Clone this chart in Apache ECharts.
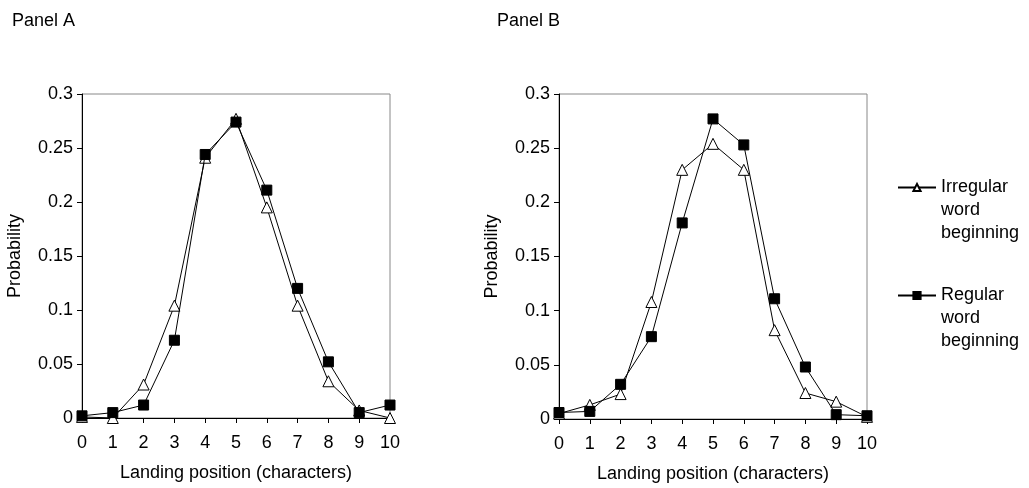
<!DOCTYPE html>
<html>
<head>
<meta charset="utf-8">
<script src="https://cdn.jsdelivr.net/npm/echarts@6/dist/echarts.min.js"></script>
<style>
    html, body { margin: 0; padding: 0; background: #fff; }
    #chart { width: 1029px; height: 488px; }
</style>
</head>
<body>
<div id="chart"></div>
<script>
// landing positions (characters)
var positions = ['0', '1', '2', '3', '4', '5', '6', '7', '8', '9', '10'];

// probabilities
var panelAIrregular = [0.001, 0.000, 0.031, 0.104, 0.241, 0.277, 0.195, 0.104, 0.034, 0.007, 0.000];
var panelARegular   = [0.002, 0.005, 0.012, 0.072, 0.244, 0.274, 0.211, 0.120, 0.052, 0.005, 0.012];
var panelBIrregular = [0.005, 0.013, 0.023, 0.108, 0.230, 0.254, 0.230, 0.082, 0.024, 0.016, 0.002];
var panelBRegular   = [0.006, 0.007, 0.032, 0.076, 0.181, 0.277, 0.253, 0.111, 0.048, 0.004, 0.003];

var seriesNames = ['Irregular word beginning', 'Regular word beginning'];
var panelTitles = ['Panel A', 'Panel B'];

var font = 'Liberation Sans, Arial, sans-serif';
var fontSize = 18;

var myChart = echarts.init(document.getElementById('chart'));

function makeXAxis(idx) {
    return {
        type: 'category',
        gridIndex: idx,
        data: positions,
        boundaryGap: false,
        name: 'Landing position (characters)',
        nameLocation: 'middle',
        nameGap: 46,
        nameTextStyle: { color: '#000', fontSize: fontSize, fontFamily: font },
        axisLine: { lineStyle: { color: '#000', width: 1 } },
        axisTick: { show: true, length: 5, alignWithLabel: true, lineStyle: { color: '#000' } },
        axisLabel: { color: '#000', fontSize: fontSize, fontFamily: font, margin: 16, interval: 0 },
        splitLine: { show: false }
    };
}

function makeYAxis(idx) {
    return {
        type: 'value',
        gridIndex: idx,
        min: 0,
        max: 0.3,
        interval: 0.05,
        name: 'Probability',
        nameLocation: 'middle',
        nameGap: 58,
        nameTextStyle: { color: '#000', fontSize: fontSize, fontFamily: font },
        axisLine: { show: true, lineStyle: { color: '#000', width: 1 } },
        axisTick: { show: true, length: 5, lineStyle: { color: '#000' } },
        axisLabel: { color: '#000', fontSize: fontSize, fontFamily: font, margin: 9 },
        splitLine: { show: false }
    };
}

function makeSeries(name, data, idx, isRegular) {
    return {
        name: name,
        type: 'line',
        xAxisIndex: idx,
        yAxisIndex: idx,
        data: data,
        clip: false,
        symbol: isRegular ? 'rect' : 'triangle',
        symbolSize: isRegular ? 10 : 11,
        showAllSymbol: true,
        lineStyle: { color: '#000', width: 1 },
        itemStyle: isRegular
            ? { color: '#000', borderColor: '#000', borderWidth: 1 }
            : { color: '#fff', borderColor: '#000', borderWidth: 1 },
        emphasis: { disabled: true },
        animation: false,
        z: isRegular ? 3 : 2
    };
}

// two blank lines on top so the first text line sits level with the icon
function legendLabel(n) {
    return '\n\n' + n.split(' ').join('\n');
}

var legendText = {
    color: '#000',
    fontSize: fontSize,
    fontFamily: font,
    lineHeight: 23
};

var option = {
    backgroundColor: '#fff',
    animation: false,
    title: [
        { text: panelTitles[0], left: 12, top: 12, padding: 0,
          textStyle: { color: '#000', fontSize: fontSize, fontWeight: 'normal', fontFamily: font } },
        { text: panelTitles[1], left: 497, top: 12, padding: 0,
          textStyle: { color: '#000', fontSize: fontSize, fontWeight: 'normal', fontFamily: font } }
    ],
    legend: [
        {
            data: [seriesNames[0]],
            left: 897, top: 130, padding: 0,
            itemWidth: 38, itemHeight: 9,
            formatter: legendLabel,
            textStyle: legendText,
            selectedMode: false
        },
        {
            data: [seriesNames[1]],
            left: 897, top: 238, padding: 0,
            itemWidth: 38, itemHeight: 9,
            formatter: legendLabel,
            textStyle: legendText,
            selectedMode: false
        }
    ],
    grid: [
        { left: 82, top: 94, width: 308, height: 324, show: true, borderColor: '#888', borderWidth: 1, backgroundColor: 'transparent' },
        { left: 559, top: 94, width: 308, height: 325, show: true, borderColor: '#888', borderWidth: 1, backgroundColor: 'transparent' }
    ],
    xAxis: [makeXAxis(0), makeXAxis(1)],
    yAxis: [makeYAxis(0), makeYAxis(1)],
    series: [
        makeSeries(seriesNames[0], panelAIrregular, 0, false),
        makeSeries(seriesNames[1], panelARegular, 0, true),
        makeSeries(seriesNames[0], panelBIrregular, 1, false),
        makeSeries(seriesNames[1], panelBRegular, 1, true)
    ]
};

myChart.setOption(option);
</script>
</body>
</html>
